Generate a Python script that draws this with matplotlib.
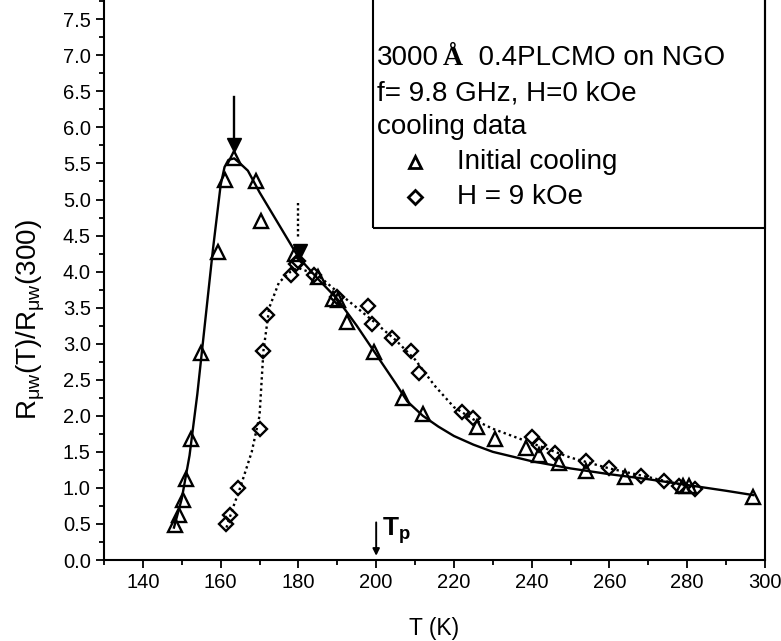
import matplotlib
matplotlib.use("Agg")
import matplotlib.pyplot as plt
from matplotlib.patches import Rectangle
from matplotlib.ticker import MultipleLocator

plt.rcParams['font.family'] = ['Liberation Sans', 'DejaVu Sans']
plt.rcParams['mathtext.fontset'] = 'custom'
plt.rcParams['mathtext.rm'] = 'Liberation Sans'
plt.rcParams['mathtext.it'] = 'Liberation Sans:italic'
plt.rcParams['mathtext.bf'] = 'Liberation Sans:bold'

# Initial cooling (triangles)
tri_T = [148.3, 149.2, 150.2, 151.2, 152.4, 155.0, 159.3, 161.0, 163.5, 169.0, 170.5,
         179.0, 185.0, 189.0, 190.3, 192.5, 199.5, 207.0, 212.0, 226.0, 230.5, 238.5,
         242.0, 247.0, 254.0, 264.0, 279.0, 280.5, 297.0]
tri_R = [0.48, 0.62, 0.83, 1.13, 1.68, 2.87, 4.27, 5.27, 5.57, 5.25, 4.70,
         4.25, 3.92, 3.62, 3.60, 3.30, 2.88, 2.25, 2.03, 1.85, 1.68, 1.55,
         1.45, 1.35, 1.24, 1.15, 1.03, 1.03, 0.87]

# H = 9 kOe (diamonds)
dia_T = [161.5, 162.5, 164.5, 170.0, 171.0, 172.0, 178.0, 179.5, 180.0, 184.0, 190.0,
         198.0, 199.0, 204.0, 209.0, 211.0, 222.0, 225.0, 240.0, 242.0, 246.0, 254.0,
         260.0, 268.0, 274.0, 278.0, 282.0]
dia_R = [0.50, 0.62, 1.00, 1.82, 2.90, 3.40, 3.95, 4.10, 4.15, 3.95, 3.65,
         3.52, 3.28, 3.08, 2.90, 2.60, 2.05, 1.97, 1.70, 1.60, 1.48, 1.38,
         1.28, 1.17, 1.10, 1.03, 0.98]

# guide curves
fit_T = [148.0, 150.0, 152.0, 154.0, 156.0, 158.0, 160.0, 161.0, 162.0, 163.5, 165.0,
         167.0, 170.0, 175.0, 180.0, 185.0, 190.0, 195.0, 200.0, 205.0, 208.0, 212.0,
         216.0, 220.0, 225.0, 230.0, 240.0, 250.0, 260.0, 270.0, 280.0, 290.0, 297.0]
fit_R = [0.45, 0.85, 1.45, 2.30, 3.30, 4.30, 5.20, 5.45, 5.55, 5.57, 5.50,
         5.40, 5.10, 4.65, 4.20, 3.90, 3.62, 3.25, 2.85, 2.45, 2.20, 2.00,
         1.85, 1.72, 1.60, 1.50, 1.37, 1.27, 1.19, 1.12, 1.04, 0.96, 0.90]

dot_T = [161.5, 163.0, 165.0, 168.0, 170.0, 171.0, 172.5, 175.0, 178.0, 180.0, 185.0,
         190.0, 195.0, 200.0, 205.0, 210.0, 215.0, 220.0, 225.0, 230.0, 240.0, 250.0,
         260.0, 270.0, 282.0]
dot_R = [0.45, 0.70, 1.00, 1.50, 2.00, 2.90, 3.50, 3.85, 4.00, 4.05, 3.95,
         3.72, 3.50, 3.28, 3.05, 2.78, 2.42, 2.12, 1.95, 1.82, 1.62, 1.42,
         1.27, 1.15, 1.00]

xticks = [140, 160, 180, 200, 220, 240, 260, 280, 300]
yticks = [0.0, 0.5, 1.0, 1.5, 2.0, 2.5, 3.0, 3.5, 4.0, 4.5, 5.0, 5.5, 6.0, 6.5, 7.0, 7.5]

W, H = 781, 641
AX_L, AX_R, AX_B, AX_T = 104, 765, 560, 0
PX_PER_UNIT = 72.1

fig = plt.figure(figsize=(W/100, H/100), dpi=100)
ax = fig.add_axes([AX_L/W, 1-AX_B/H, (AX_R-AX_L)/W, (AX_B-AX_T)/H])

ax.plot(fit_T, fit_R, '-', color='black', lw=1.7)
ax.plot(dot_T, dot_R, color='black', lw=1.7, linestyle=(0, (1, 1.4)))
ax.plot(tri_T, tri_R, '^', ms=10, mfc='none', mec='black', mew=1.7, ls='none')
ax.plot(dia_T, dia_R, 'D', ms=7.5, mfc='none', mec='black', mew=1.7, ls='none')

# arrows marking the peaks
ax.plot([163.5, 163.5], [6.42, 5.85], '-', color='black', lw=1.7)
ax.plot([163.5], [5.75], 'v', ms=10, color='black')
ax.plot([180, 180], [4.95, 4.45], color='black', lw=1.7, linestyle=(0, (1, 1.2)))
ax.plot([180.3], [4.28], 'v', ms=10, color='black')

ax.annotate('', xy=(200, 0.02), xytext=(200, 0.56),
            arrowprops=dict(arrowstyle='-|>', color='black', lw=1.4, mutation_scale=10))
ax.text(201.6, 0.19, r'$\mathbf{T_p}$', fontsize=19, ha='left', va='bottom')

ax.set_xlim(130, 300)
ax.set_ylim(0, (AX_B-AX_T)/PX_PER_UNIT)
ax.set_xticks(xticks)
ax.set_yticks(yticks)
ax.set_xticklabels([str(v) for v in xticks])
ax.set_yticklabels([f'{v:.1f}' for v in yticks])
ax.xaxis.set_minor_locator(MultipleLocator(10))
ax.yaxis.set_minor_locator(MultipleLocator(0.25))
ax.tick_params(which='both', direction='out', top=False, right=False, width=1.3, labelsize=14.5)
ax.tick_params(which='major', length=6)
ax.tick_params(which='minor', length=3.5)
for s in ['left', 'bottom', 'right']:
    ax.spines[s].set_linewidth(1.5)
ax.spines['top'].set_visible(False)

ax.set_xlabel('T (K)', fontsize=16.5, labelpad=18)
ax.set_ylabel(r'R$_{\rm μw}$(T)/R$_{\rm μw}$(300)', fontsize=20)
ax.yaxis.set_label_coords(-0.086, 0.43)

# legend box
def ax_x(px):
    return (px-AX_L)/(AX_R-AX_L)
def ax_y(py):
    return (AX_B-py)/(AX_B-AX_T)

bx0, by0 = ax_x(373), ax_y(228)
ax.add_patch(Rectangle((bx0, by0), 1-bx0, 1.1-by0, transform=ax.transAxes,
                       fill=False, lw=1.5, ec='black', clip_on=False))
fs = 20
t1 = ax.text(ax_x(377), ax_y(58), '3000', transform=ax.transAxes, fontsize=fs, va='center')
t2 = ax.annotate('Å', xy=(1, 0), xycoords=t1, xytext=(3, 0), textcoords='offset points',
                 fontsize=fs, fontfamily='Liberation Serif', fontweight='bold', va='bottom')
ax.annotate('  0.4PLCMO on NGO', xy=(1, 0), xycoords=t2, fontsize=fs, va='bottom')
ax.text(ax_x(377), ax_y(93), 'f= 9.8 GHz, H=0 kOe', transform=ax.transAxes, fontsize=fs, va='center')
ax.text(ax_x(377), ax_y(127), 'cooling data', transform=ax.transAxes, fontsize=fs, va='center')
ax.plot([ax_x(415)], [ax_y(162)], '^', ms=9, mfc='none', mec='black', mew=2.0,
        transform=ax.transAxes, clip_on=False)
ax.plot([ax_x(415)], [ax_y(197)], 'D', ms=7, mfc='none', mec='black', mew=2.0,
        transform=ax.transAxes, clip_on=False)
ax.text(ax_x(457), ax_y(162), 'Initial cooling', transform=ax.transAxes, fontsize=fs, va='center')
ax.text(ax_x(457), ax_y(197), 'H = 9 kOe', transform=ax.transAxes, fontsize=fs, va='center')

fig.savefig('out.png', dpi=100)
